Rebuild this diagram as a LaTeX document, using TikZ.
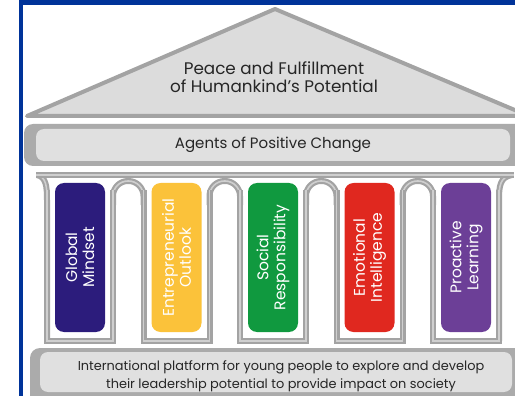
\documentclass[tikz,border=0pt]{standalone}
\usepackage{fontspec}
\setmainfont{Poppins}
\usepackage{xcolor}
\usetikzlibrary{positioning}

\definecolor{edgeblue}{HTML}{003399}
\definecolor{roofgray}{HTML}{DCDCDC}
\definecolor{linegray}{HTML}{A3A3A3}
\definecolor{linelight}{HTML}{CFCFCF}
\definecolor{barlight}{HTML}{E0E0E0}
\definecolor{bardark}{HTML}{ABABAB}
\definecolor{txtgray}{HTML}{262626}
\definecolor{cglobal}{HTML}{2C1C7C}
\definecolor{centre}{HTML}{FBC23A}
\definecolor{csocial}{HTML}{10993F}
\definecolor{cemot}{HTML}{E0281F}
\definecolor{cproact}{HTML}{6C3F97}

\begin{document}
\begin{tikzpicture}[x=1pt,y=-1pt,
  lbl/.style={font=\fontsize{15}{17.5}\selectfont,text=txtgray,align=center},
  bar/.style={fill=barlight,rounded corners=8pt,inner sep=0pt},
  pillar/.style={fill=#1,rounded corners=9pt,rotate=90,minimum width=149pt,minimum height=50pt,
    inner sep=0pt,text=white,align=center,font=\fontsize{15.5}{17}\selectfont},
  colline/.style={draw=linegray,double=linelight,line width=2.2pt,double distance=1.6pt}
]
\useasboundingbox (0,0) rectangle (515,396);
\clip (0,0) rectangle (515,396);

% roof
\draw[fill=roofgray,draw=linegray,line width=4pt,line join=round] (275,9) -- (529,116) -- (27,116) -- cycle;
\node[lbl,font=\fontsize{16.8}{17.5}\selectfont] (roof) at (274,77) {Peace and Fulfillment\\of Humankind's Potential};

% agents bar
\fill[bardark,rounded corners=9pt] (24,124) rectangle (535,166);
\node[bar,lbl,minimum width=474pt,minimum height=32pt] (agents) at (273,145) {Agents of Positive Change};

% colonnade
\foreach \i in {0,...,3}
  \draw[colline,rounded corners=15pt] (113+96.5*\i,205) -- (113+96.5*\i,181) -- (143.5+96.5*\i,181) -- (143.5+96.5*\i,205);
\draw[colline] (37,175) .. controls (46,177) and (47,186) .. (47,200) -- (47,341);
\draw[colline] (512,175) .. controls (500,177) and (499,186) .. (499,200) -- (499,341);
\foreach \col/\txt [count=\i from 0] in {cglobal/Global\\Mindset, centre/Entrepreneurial\\Outlook,
    csocial/Social\\Responsibility, cemot/Emotional\\Intelligence, cproact/Proactive\\Learning} {
  \draw[colline] (47+96.5*\i,190) -- (47+96.5*\i,341) -- (113+96.5*\i,341) -- (113+96.5*\i,190);
  \node[pillar=\col] (p\i) at (80+96.5*\i,257.5) {\txt};
}
\draw[colline] (36,175) -- (514,175);

% base
\fill[bardark,rounded corners=10pt] (30,348) rectangle (540,410);
\node[bar,minimum width=472pt,minimum height=40pt] (base) at (276,372) {};
\node[lbl,font=\fontsize{12.9}{18}\selectfont] (basetext) at (281,376) {International platform for young people to explore and develop\\their leadership potential to provide impact on society};

% border
\fill[edgeblue] (19,0) rectangle (515,5.5);
\fill[edgeblue] (19,0) rectangle (23,396);
\end{tikzpicture}
\end{document}
